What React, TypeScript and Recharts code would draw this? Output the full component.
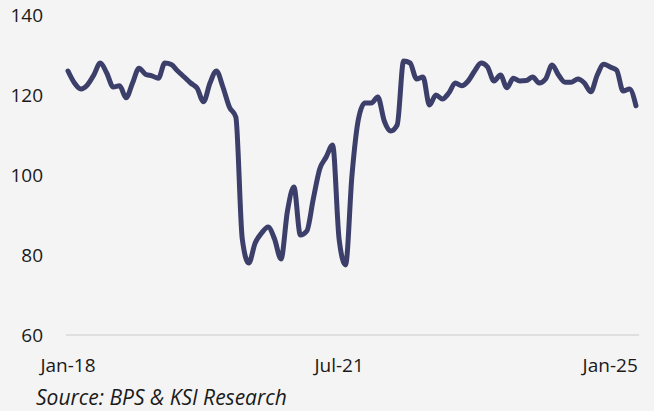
import React from 'react';
import { LineChart, Line, XAxis, YAxis, ReferenceLine } from 'recharts';

const monthNames = ['Jan', 'Feb', 'Mar', 'Apr', 'May', 'Jun', 'Jul', 'Aug', 'Sep', 'Oct', 'Nov', 'Dec'];
const years = ['18', '19', '20', '21', '22', '23', '24', '25'];

// monthly index values, Jan-18 .. May-25
const indexValues = [
  126, 123, 121.5, 122.5, 125, 128, 125.5, 122, 122.3, 119.3, 123, 126.7,
  125.2, 124.8, 124.2, 128, 127.6, 126, 124.5, 123, 121.7, 118.3, 123, 126,
  122, 117, 114.5, 84, 78, 83, 85.5, 87, 84, 79, 91, 97,
  85, 86, 94, 101.5, 104.5, 107.5, 84, 77.5, 100, 114, 118, 118,
  119.5, 113.5, 111, 112.5, 128.5, 128, 124, 124.5, 117.5, 120, 119, 120.5,
  123, 122.3, 123.5, 126, 128, 127, 123.5, 125, 121.8, 124.2, 123.5, 123.6,
  124.5, 123, 124, 127.5, 125, 123.2, 123.2, 124, 123, 120.8, 125, 127.7,
  127, 126.2, 121, 121.5, 117.3,
];

const xTicks = ['Jan-18', 'Jul-21', 'Jan-25'];
const yTicks = [60, 80, 100, 120, 140];
const sourceText = 'Source: BPS & KSI Research';

const monthLabels = years.flatMap((y) => monthNames.map((m) => `${m}-${y}`));
const data = indexValues.map((value, i) => ({ month: monthLabels[i], value }));

const font = '"Open Sans", "Noto Sans", sans-serif';

export default function App() {
  return (
    <div
      style={{
        position: 'absolute',
        left: 0,
        top: 0,
        width: 654,
        height: 411,
        background: '#f4f4f4',
        fontFamily: font,
      }}>
      <LineChart
        width={654}
        height={411}
        data={data}
        margin={{ top: 15, right: 15, bottom: 46, left: 0 }}>
        <XAxis
          dataKey="month"
          ticks={xTicks}
          interval={0}
          height={30}
          axisLine={false}
          tickLine={false}
          tickSize={0}
          tickMargin={24}
          padding={{ left: 2, right: 3 }}
          tick={{ fill: '#1a1a1a', fontSize: 19, fontFamily: font }} />

        <YAxis
          domain={[60, 140]}
          ticks={yTicks}
          width={66}
          axisLine={false}
          tickLine={false}
          tickSize={0}
          tickMargin={23}
          tick={{ fill: '#1a1a1a', fontSize: 19, fontFamily: font }} />

        <ReferenceLine y={60} stroke="#d9d9d9" strokeWidth={1.5} />
        <Line
          type="monotone"
          dataKey="value"
          stroke="#3d3f6b"
          strokeWidth={5}
          strokeLinecap="round"
          strokeLinejoin="round"
          dot={false}
          isAnimationActive={false} />

      </LineChart>
      <div
        style={{
          position: 'absolute',
          left: 36,
          top: 383,
          fontSize: 21,
          lineHeight: '28px',
          fontStyle: 'italic',
          color: '#1a1a1a',
          whiteSpace: 'nowrap',
        }}>
        {sourceText}
      </div>
    </div>);

}
